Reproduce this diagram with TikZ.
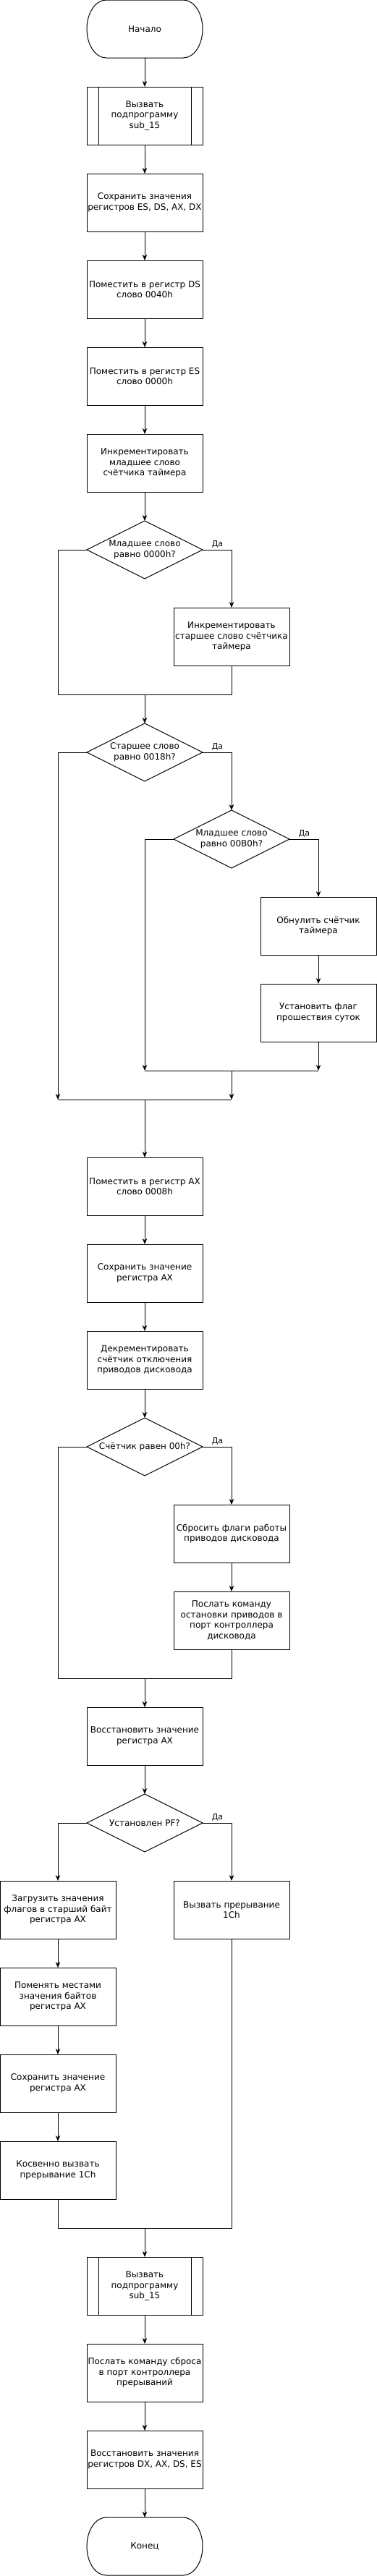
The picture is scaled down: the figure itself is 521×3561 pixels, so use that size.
\documentclass[tikz,border=0pt]{standalone}
\usepackage{fontspec}
\setmainfont{DejaVu Sans}
\usetikzlibrary{arrows.meta}

\tikzset{
  base/.style={minimum width=160pt, minimum height=80pt, inner sep=0pt, outer sep=0pt,
    align=center, font=\fontsize{12pt}{14.5pt}\selectfont},
  box/.style={base, draw, line width=1pt},
  yes/.style={inner sep=0pt, font=\fontsize{11pt}{13pt}\selectfont},
  wire/.style={line width=1pt},
  arr/.style={wire, -{Stealth[length=8pt,width=6.5pt,inset=2.5pt]}}
}

\begin{document}
\begin{tikzpicture}[x=1pt, y=-1pt]
    \useasboundingbox (0,0) rectangle (521,3561);

    \node[base] (start) at (200,40) {Начало};
    \node[box] (sub1) at (200,160) {Вызвать\\подпрограмму\\sub\_15};
    \node[box] (sav1) at (200,280) {Сохранить значения\\регистров ES, DS, AX, DX};
    \node[box] (ds) at (200,400) {Поместить в регистр DS\\слово 0040h};
    \node[box] (es) at (200,520) {Поместить в регистр ES\\слово 0000h};
    \node[box] (inclo) at (200,640) {Инкрементировать\\младшее слово\\счётчика таймера};
    \node[base] (d1) at (200,760) {Младшее слово\\равно 0000h?};
    \node[box] (inchi) at (320,880) {Инкрементировать\\старшее слово счётчика\\таймера};
    \node[base] (d2) at (200,1040) {Старшее слово\\равно 0018h?};
    \node[base] (d3) at (320,1160) {Младшее слово\\равно 00B0h?};
    \node[box] (zero) at (440,1280) {Обнулить счётчик\\таймера};
    \node[box] (flag) at (440,1400) {Установить флаг\\прошествия суток};
    \node[box] (ax8) at (200,1640) {Поместить в регистр AX\\слово 0008h};
    \node[box] (sav2) at (200,1760) {Сохранить значение\\регистра AX};
    \node[box] (dec) at (200,1880) {Декрементировать\\счётчик отключения\\приводов дисковода};
    \node[base] (d4) at (200,2000) {Счётчик равен 00h?};
    \node[box] (rst) at (320,2120) {Сбросить флаги работы\\приводов дисковода};
    \node[box] (halt) at (320,2240) {Послать команду\\остановки приводов в\\порт контроллера\\дисковода};
    \node[box] (rax) at (200,2400) {Восстановить значение\\регистра AX};
    \node[base] (d5) at (200,2520) {Установлен PF?};
    \node[box] (lf) at (80,2640) {Загрузить значения\\флагов в старший байт\\регистра AX};
    \node[box] (int) at (320,2640) {Вызвать прерывание\\1Ch};
    \node[box] (swap) at (80,2760) {Поменять местами\\значения байтов\\регистра AX};
    \node[box] (sav3) at (80,2880) {Сохранить значение\\регистра AX};
    \node[box] (ind) at (80,3000) {Косвенно вызвать\\прерывание 1Ch};
    \node[box] (sub2) at (200,3160) {Вызвать\\подпрограмму\\sub\_15};
    \node[box] (eoi) at (200,3280) {Послать команду сброса\\в порт контроллера\\прерываний};
    \node[box] (rst2) at (200,3400) {Восстановить значения\\регистров DX, AX, DS, ES};
    \node[base] (finish) at (200,3520) {Конец};

    \foreach \n in {start,finish}
        \draw[wire] ([xshift=26.7pt]\n.north west) -- ([xshift=-26.7pt]\n.north east)
            arc[start angle=90, end angle=-90, x radius=26.7pt, y radius=40pt]
            -- ([xshift=26.7pt]\n.south west)
            arc[start angle=270, end angle=90, x radius=26.7pt, y radius=40pt] -- cycle;
    \foreach \n in {sub1,sub2} {
        \draw[wire] ([xshift=16pt]\n.north west) -- ([xshift=16pt]\n.south west);
        \draw[wire] ([xshift=-16pt]\n.north east) -- ([xshift=-16pt]\n.south east);
    }
    \foreach \n in {d1,d2,d3,d4,d5}
        \draw[wire] (\n.north) -- (\n.east) -- (\n.south) -- (\n.west) -- cycle;

    \node[yes] (yes1) at ([shift={(20.5,-8)}]d1.east) {Да};
    \node[yes] (yes2) at ([shift={(20.5,-8)}]d2.east) {Да};
    \node[yes] (yes3) at ([shift={(20.5,-8)}]d3.east) {Да};
    \node[yes] (yes4) at ([shift={(20.5,-8)}]d4.east) {Да};
    \node[yes] (yes5) at ([shift={(20.5,-8)}]d5.east) {Да};

    \coordinate (j1) at (200,960);
    \coordinate (m1) at (200,1480);
    \coordinate (j2) at (320,1480);
    \coordinate (m2) at (440,1480);
    \coordinate (m3) at (80,1520);
    \coordinate (j3) at (200,1520);
    \coordinate (m4) at (320,1520);
    \coordinate (j4) at (200,2320);
    \coordinate (j5) at (200,3080);

    \foreach \a/\b in {start/sub1, sub1/sav1, sav1/ds, ds/es, es/inclo, inclo/d1,
        j1/d2, zero/flag, flag/m2, j2/m4, j3/ax8, ax8/sav2, sav2/dec, dec/d4,
        rst/halt, j4/rax, rax/d5, lf/swap, swap/sav3, sav3/ind, j5/sub2,
        sub2/eoi, eoi/rst2, rst2/finish}
        \draw[arr] (\a) -- (\b);

    \draw[arr] (d1.east) -| (inchi);
    \draw[wire] (d1.west) -- ++(-40,0) |- (j1);
    \draw[wire] (inchi) |- (j1);

    \draw[arr] (d2.east) -| (d3);
    \draw[arr] (d2.west) -| (m3);
    \draw[arr] (d3.east) -| (zero);
    \draw[arr] (d3.west) -| (m1);
    \draw[wire] (m1) -- (m2);
    \draw[wire] (m3) -- (m4);

    \draw[arr] (d4.east) -| (rst);
    \draw[wire] (d4.west) -- ++(-40,0) |- (j4);
    \draw[wire] (halt) |- (j4);

    \draw[arr] (d5.east) -| (int);
    \draw[arr] (d5.west) -| (lf);
    \draw[wire] (ind) |- (j5);
    \draw[wire] (int) |- (j5);
\end{tikzpicture}
\end{document}
